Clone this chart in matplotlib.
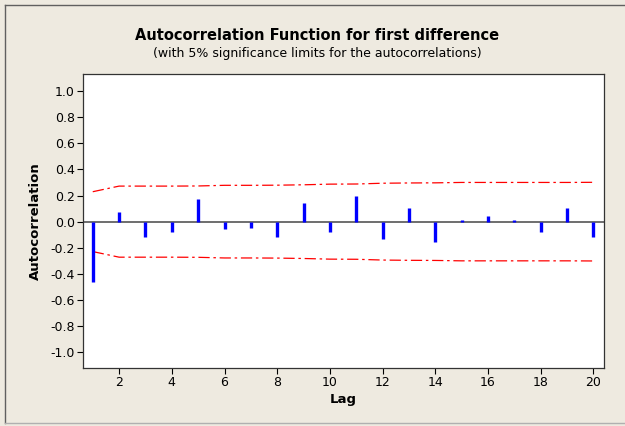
import matplotlib
matplotlib.use("Agg")
import matplotlib.pyplot as plt
from matplotlib.lines import Line2D

lags = list(range(1, 21))
acf = [-0.463, 0.071, -0.120, -0.080, 0.170, -0.056, -0.048, -0.120, 0.145, -0.080,
       0.198, -0.132, 0.104, -0.158, 0.013, 0.040, 0.010, -0.082, 0.104, -0.115]
upper = [0.229, 0.272, 0.272, 0.272, 0.273, 0.278, 0.278, 0.279, 0.282, 0.287,
         0.288, 0.294, 0.296, 0.297, 0.300, 0.300, 0.300, 0.300, 0.300, 0.301]
lower = [-u for u in upper]
xticks = [2, 4, 6, 8, 10, 12, 14, 16, 18, 20]
yticks = [-1.0, -0.8, -0.6, -0.4, -0.2, 0.0, 0.2, 0.4, 0.6, 0.8, 1.0]

plt.rcParams['font.family'] = ['DejaVu Sans']

bg = "#EEEAE0"
fig = plt.figure(figsize=(6.25, 4.26), dpi=100, facecolor=bg)
ax = fig.add_axes([0.1328, 0.1362, 0.8336, 0.6901])
ax.set_facecolor("white")

# frame around the whole graph window
fig.add_artist(Line2D([5/625, 5/625], [1 - 5/426, 1 - 423/426], color="#606060", lw=1))
fig.add_artist(Line2D([5/625, 1], [1 - 5/426, 1 - 5/426], color="#606060", lw=1))
fig.add_artist(Line2D([5/625, 1], [1 - 423/426, 1 - 423/426], color="#B0B0B0", lw=1))

ax.axhline(0, color="#555555", lw=1.2, zorder=1)
ax.vlines(lags, 0, acf, color="#0000FF", lw=2.4, zorder=3)
ax.plot(lags, upper, color="#FF0000", lw=0.9, dashes=[9, 3, 2, 3], zorder=2)
ax.plot(lags, lower, color="#FF0000", lw=0.9, dashes=[9, 3, 2, 3], zorder=2)

ax.set_xlim(0.63, 20.4)
ax.set_ylim(-1.12, 1.13)
ax.set_xticks(xticks)
ax.set_yticks(yticks)
ax.set_yticklabels([f"{v:.1f}" for v in yticks])
ax.tick_params(labelsize=9, length=4, width=0.8, colors="black", pad=2)
for s in ax.spines.values():
    s.set_linewidth(0.9)
    s.set_color("#333333")

ax.set_xlabel("Lag", fontsize=9.5, fontweight="bold", labelpad=3)
ax.set_ylabel("Autocorrelation", fontsize=9.5, fontweight="bold", labelpad=6)

fig.text(0.508, 1 - 36/426, "Autocorrelation Function for first difference",
         ha="center", va="center", fontsize=10.5, fontweight="bold")
fig.text(0.508, 1 - 53/426, "(with 5% significance limits for the autocorrelations)",
         ha="center", va="center", fontsize=9)

fig.savefig("out.png", dpi=100, facecolor=bg)
